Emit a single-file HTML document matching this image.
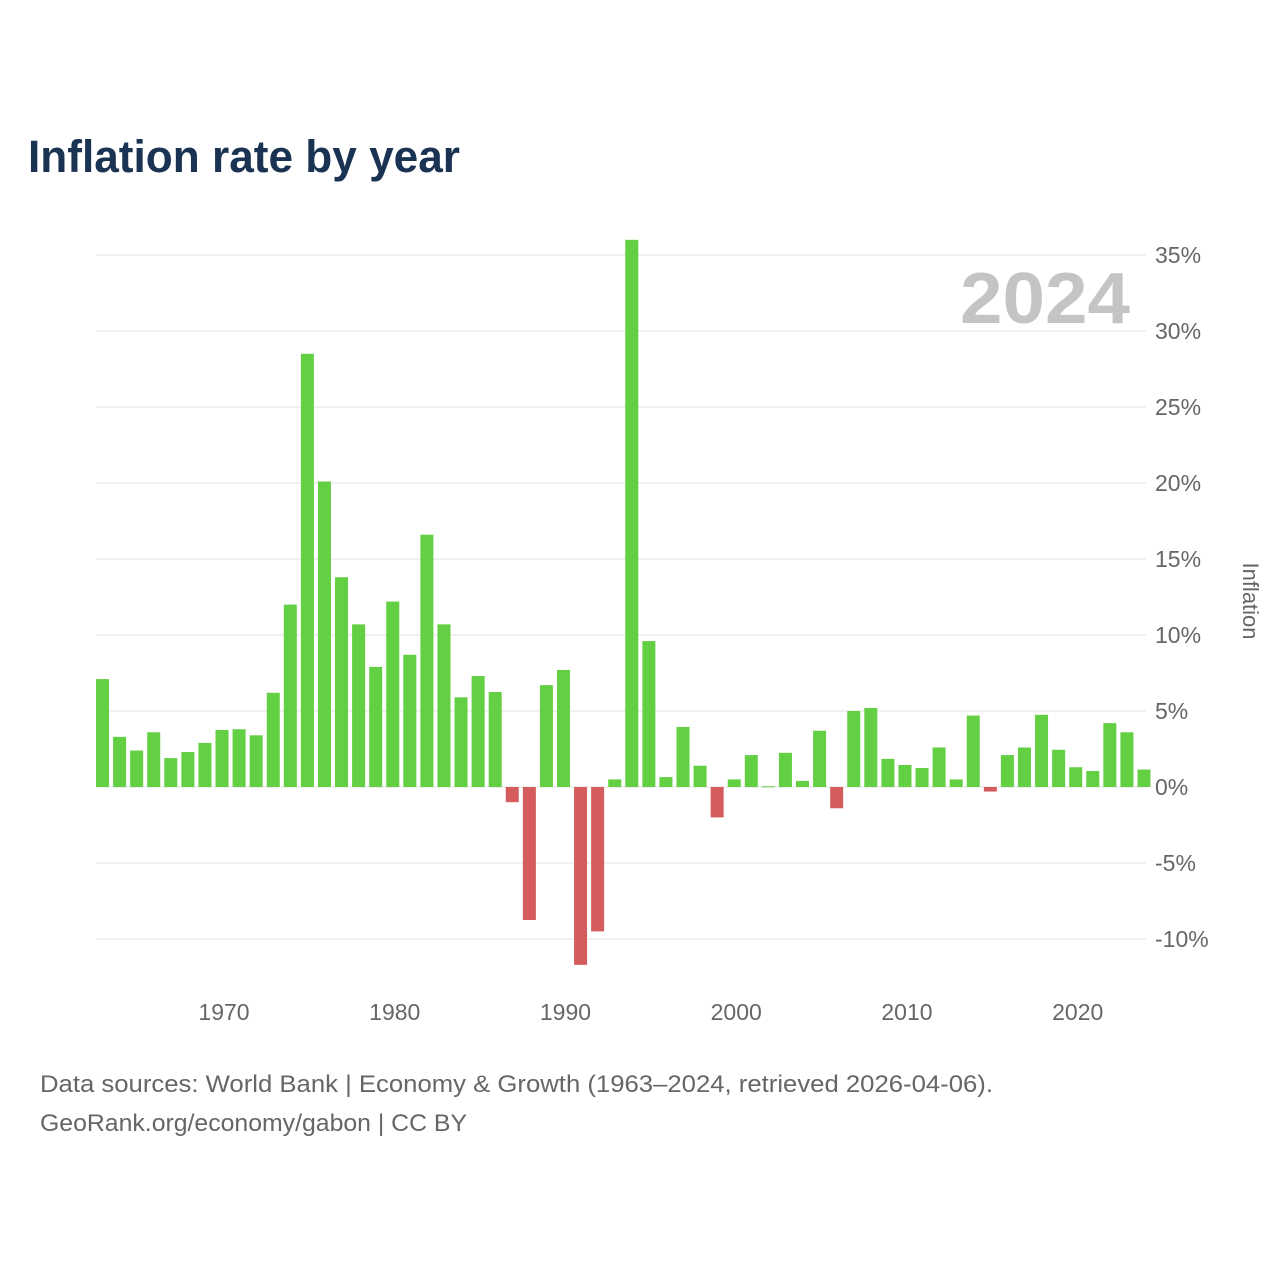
<!DOCTYPE html>
<html><head><meta charset="utf-8"><style>
body{margin:0;background:#fff;}
svg{display:block;font-family:"Liberation Sans",sans-serif;}
</style></head><body>
<svg id="chart" width="1280" height="1280">
<text x="28" y="172" font-size="45" font-weight="bold" fill="#1b3352" textLength="432" lengthAdjust="spacingAndGlyphs">Inflation rate by year</text>
<g id="grid"></g>
<text x="960" y="323" font-size="72" font-weight="bold" fill="#c4c4c4" textLength="170" lengthAdjust="spacingAndGlyphs">2024</text>
<g id="bars"></g>
<g id="yticks"></g>
<g id="xticks"></g>
<text transform="translate(1243,601) rotate(90)" font-size="22" fill="#666" text-anchor="middle">Inflation</text>
<text x="40" y="1092" font-size="24" fill="#666" textLength="953" lengthAdjust="spacingAndGlyphs">Data sources: World Bank | Economy &amp; Growth (1963–2024, retrieved 2026-04-06).</text>
<text x="40" y="1131" font-size="24" fill="#666" textLength="427" lengthAdjust="spacingAndGlyphs">GeoRank.org/economy/gabon | CC BY</text>
</svg>
<script>
const years=[];for(let y=1963;y<=2024;y++)years.push(y);
const values=[7.1,3.3,2.4,3.6,1.9,2.3,2.9,3.75,3.8,3.4,6.2,12.0,28.5,20.1,13.8,10.7,7.9,12.2,8.7,16.6,10.7,5.9,7.3,6.25,-1.0,-8.75,6.7,7.7,-11.7,-9.5,0.5,36.0,9.6,0.65,3.95,1.4,-2.0,0.5,2.1,0.05,2.25,0.4,3.7,-1.4,5.0,5.2,1.85,1.45,1.25,2.6,0.5,4.7,-0.3,2.1,2.6,4.75,2.45,1.3,1.05,4.2,3.6,1.15];
const yTicks=[-10,-5,0,5,10,15,20,25,30,35];
const xTicks=[1970,1980,1990,2000,2010,2020];
const NS="http://www.w3.org/2000/svg";
const y=v=>787-v*15.2;
const step=(1144-102.5)/61;
const x=yr=>102.5+(yr-1963)*step;
function mk(t,a,p){const e=document.createElementNS(NS,t);for(const k in a)e.setAttribute(k,a[k]);p.appendChild(e);return e;}
const grid=document.getElementById('grid'),yt=document.getElementById('yticks'),xt=document.getElementById('xticks'),bars=document.getElementById('bars');
yTicks.forEach(v=>{
 const l=mk('line',{x1:96,x2:1146,y1:y(v),y2:y(v),stroke:'#ebebeb','stroke-width':1.5},grid);
 
 
 const t=mk('text',{x:1155,y:y(v)+8,'font-size':23,fill:'#666'},yt);t.textContent=v+'%';
 
 
});
xTicks.forEach(v=>{
 const t=mk('text',{x:x(v)+2,y:1020,'font-size':23,fill:'#666','text-anchor':'middle'},xt);t.textContent=v;
 
 
});
years.forEach((yr,i)=>{
 const v=values[i];
 const top=Math.min(y(v),y(0)),h=Math.max(Math.abs(y(v)-y(0)),1);
 const r=mk('rect',{x:x(yr)-6.5,y:top,width:13,height:h,fill:v>=0?'#63cf43':'#d45c5c'},bars);
 
 
});
</script>
</body></html>
